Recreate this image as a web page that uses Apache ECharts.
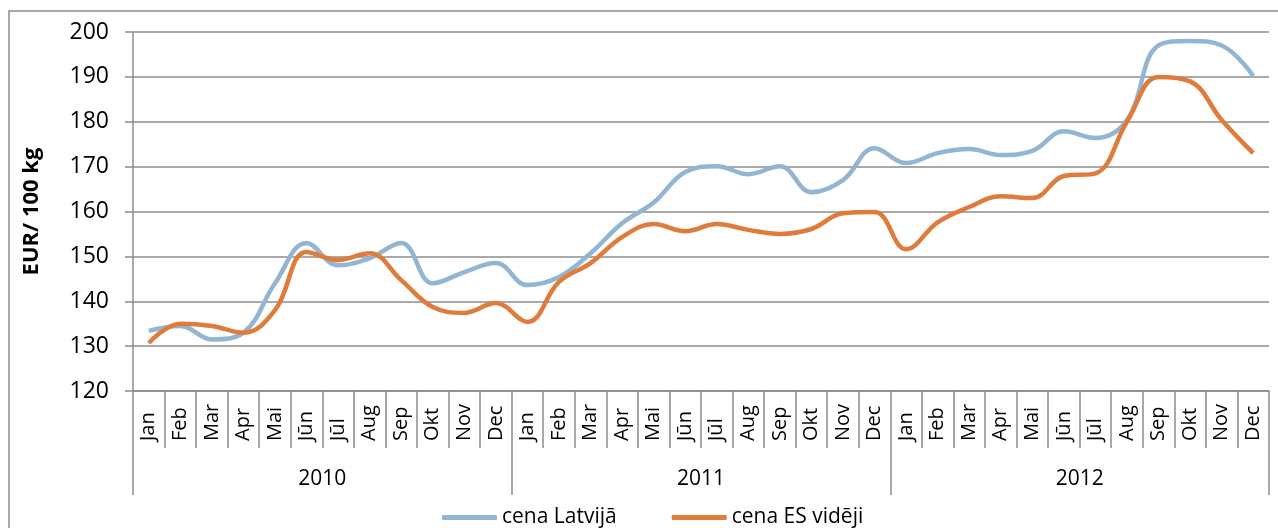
<!DOCTYPE html>
<html>
<head>
<meta charset="utf-8">
<script src="https://cdn.jsdelivr.net/npm/echarts@6/dist/echarts.min.js"></script>
<style>
  html, body { margin: 0; padding: 0; background: #fff; }
  #chart { width: 1278px; height: 528px; }
</style>
</head>
<body>
<div id="chart"></div>
<script>
const months = ['Jan', 'Feb', 'Mar', 'Apr', 'Mai', 'Jūn', 'Jūl', 'Aug', 'Sep', 'Okt', 'Nov', 'Dec']
const years = ['2010', '2011', '2012']
const categories = years.flatMap(y => months.map(m => m + ' ' + y))

const cenaLatvija = [
  133.4, 134.5, 131.5, 133, 144, 153, 148, 149.6, 153, 144, 146.5, 148.5,
  143.6, 145.4, 150.7, 157.4, 162, 168.8, 170.1, 168.3, 170.1, 164.3, 167, 174.1,
  170.8, 173, 173.9, 172.6, 173.5, 177.9, 176.4, 180.4, 197, 198, 197, 190.2
]
const cenaES = [
  130.7, 135, 134.5, 133, 138, 151, 149.2, 150.7, 144.7, 138.7, 137.4, 139.6,
  135.4, 144.3, 148.5, 154.3, 157.2, 155.6, 157.2, 155.9, 155, 156.1, 159.6, 159.9,
  151.6, 157.6, 161, 163.4, 163, 167.9, 168.5, 180, 190, 189, 180.4, 173
]

const FONT = '"Open Sans", "Noto Sans", sans-serif'
const GRID_COLOR = '#8c8c8c'

const chart = echarts.init(document.getElementById('chart'))
chart.setOption({
  animation: false,
  textStyle: { fontFamily: FONT },
  graphic: [{
    type: 'rect',
    shape: { x: 9, y: 11, width: 1320, height: 600 },
    style: { fill: 'none', stroke: GRID_COLOR, lineWidth: 1.5 },
    silent: true,
    z: -10
  }],
  grid: { left: 133, right: 9, top: 32, bottom: 137 },
  legend: {
    left: 437,
    top: 502,
    icon: 'roundRect',
    itemWidth: 55,
    itemHeight: 5,
    itemGap: 55,
    textStyle: { fontSize: 21, color: '#000', fontFamily: FONT },
    data: ['cena Latvijā', 'cena ES vidēji']
  },
  xAxis: [{
    type: 'category',
    data: categories,
    boundaryGap: true,
    axisLine: { lineStyle: { color: GRID_COLOR, width: 1.5 } },
    axisTick: { show: true, length: 57, lineStyle: { color: GRID_COLOR, width: 1.5 } },
    axisLabel: {
      interval: 0,
      rotate: 90,
      align: 'left',
      verticalAlign: 'middle',
      margin: 50,
      fontSize: 20,
      color: '#000',
      fontFamily: FONT,
      formatter: v => v.split(' ')[0]
    },
    splitLine: { show: false }
  }, {
    type: 'category',
    data: years,
    position: 'bottom',
    boundaryGap: true,
    axisLine: { show: false },
    axisTick: { show: true, length: 104, lineStyle: { color: GRID_COLOR, width: 1.5 } },
    axisLabel: { margin: 78, fontSize: 21, color: '#000', fontFamily: FONT },
    splitLine: { show: false }
  }],
  yAxis: {
    type: 'value',
    min: 120,
    max: 200,
    interval: 10,
    name: 'EUR/ 100 kg',
    nameLocation: 'middle',
    nameRotate: 90,
    nameGap: 90,
    nameTextStyle: { fontSize: 22, fontWeight: 'bold', color: '#000', fontFamily: FONT },
    axisLine: { show: true, lineStyle: { color: GRID_COLOR, width: 1.5 } },
    axisTick: { show: true, length: 8, lineStyle: { color: GRID_COLOR, width: 1.5 } },
    axisLabel: { fontSize: 23, color: '#000', margin: 24, fontFamily: FONT },
    splitLine: { lineStyle: { color: GRID_COLOR, width: 1.5 } }
  },
  series: [{
    name: 'cena Latvijā',
    type: 'line',
    data: cenaLatvija,
    smooth: 0.4,
    symbol: 'none',
    itemStyle: { color: '#93b5d4' },
    lineStyle: { color: '#93b5d4', width: 4.5 }
  }, {
    name: 'cena ES vidēji',
    type: 'line',
    data: cenaES,
    smooth: 0.4,
    symbol: 'none',
    itemStyle: { color: '#df7c3c' },
    lineStyle: { color: '#df7c3c', width: 4.5 }
  }]
})
</script>
</body>
</html>
